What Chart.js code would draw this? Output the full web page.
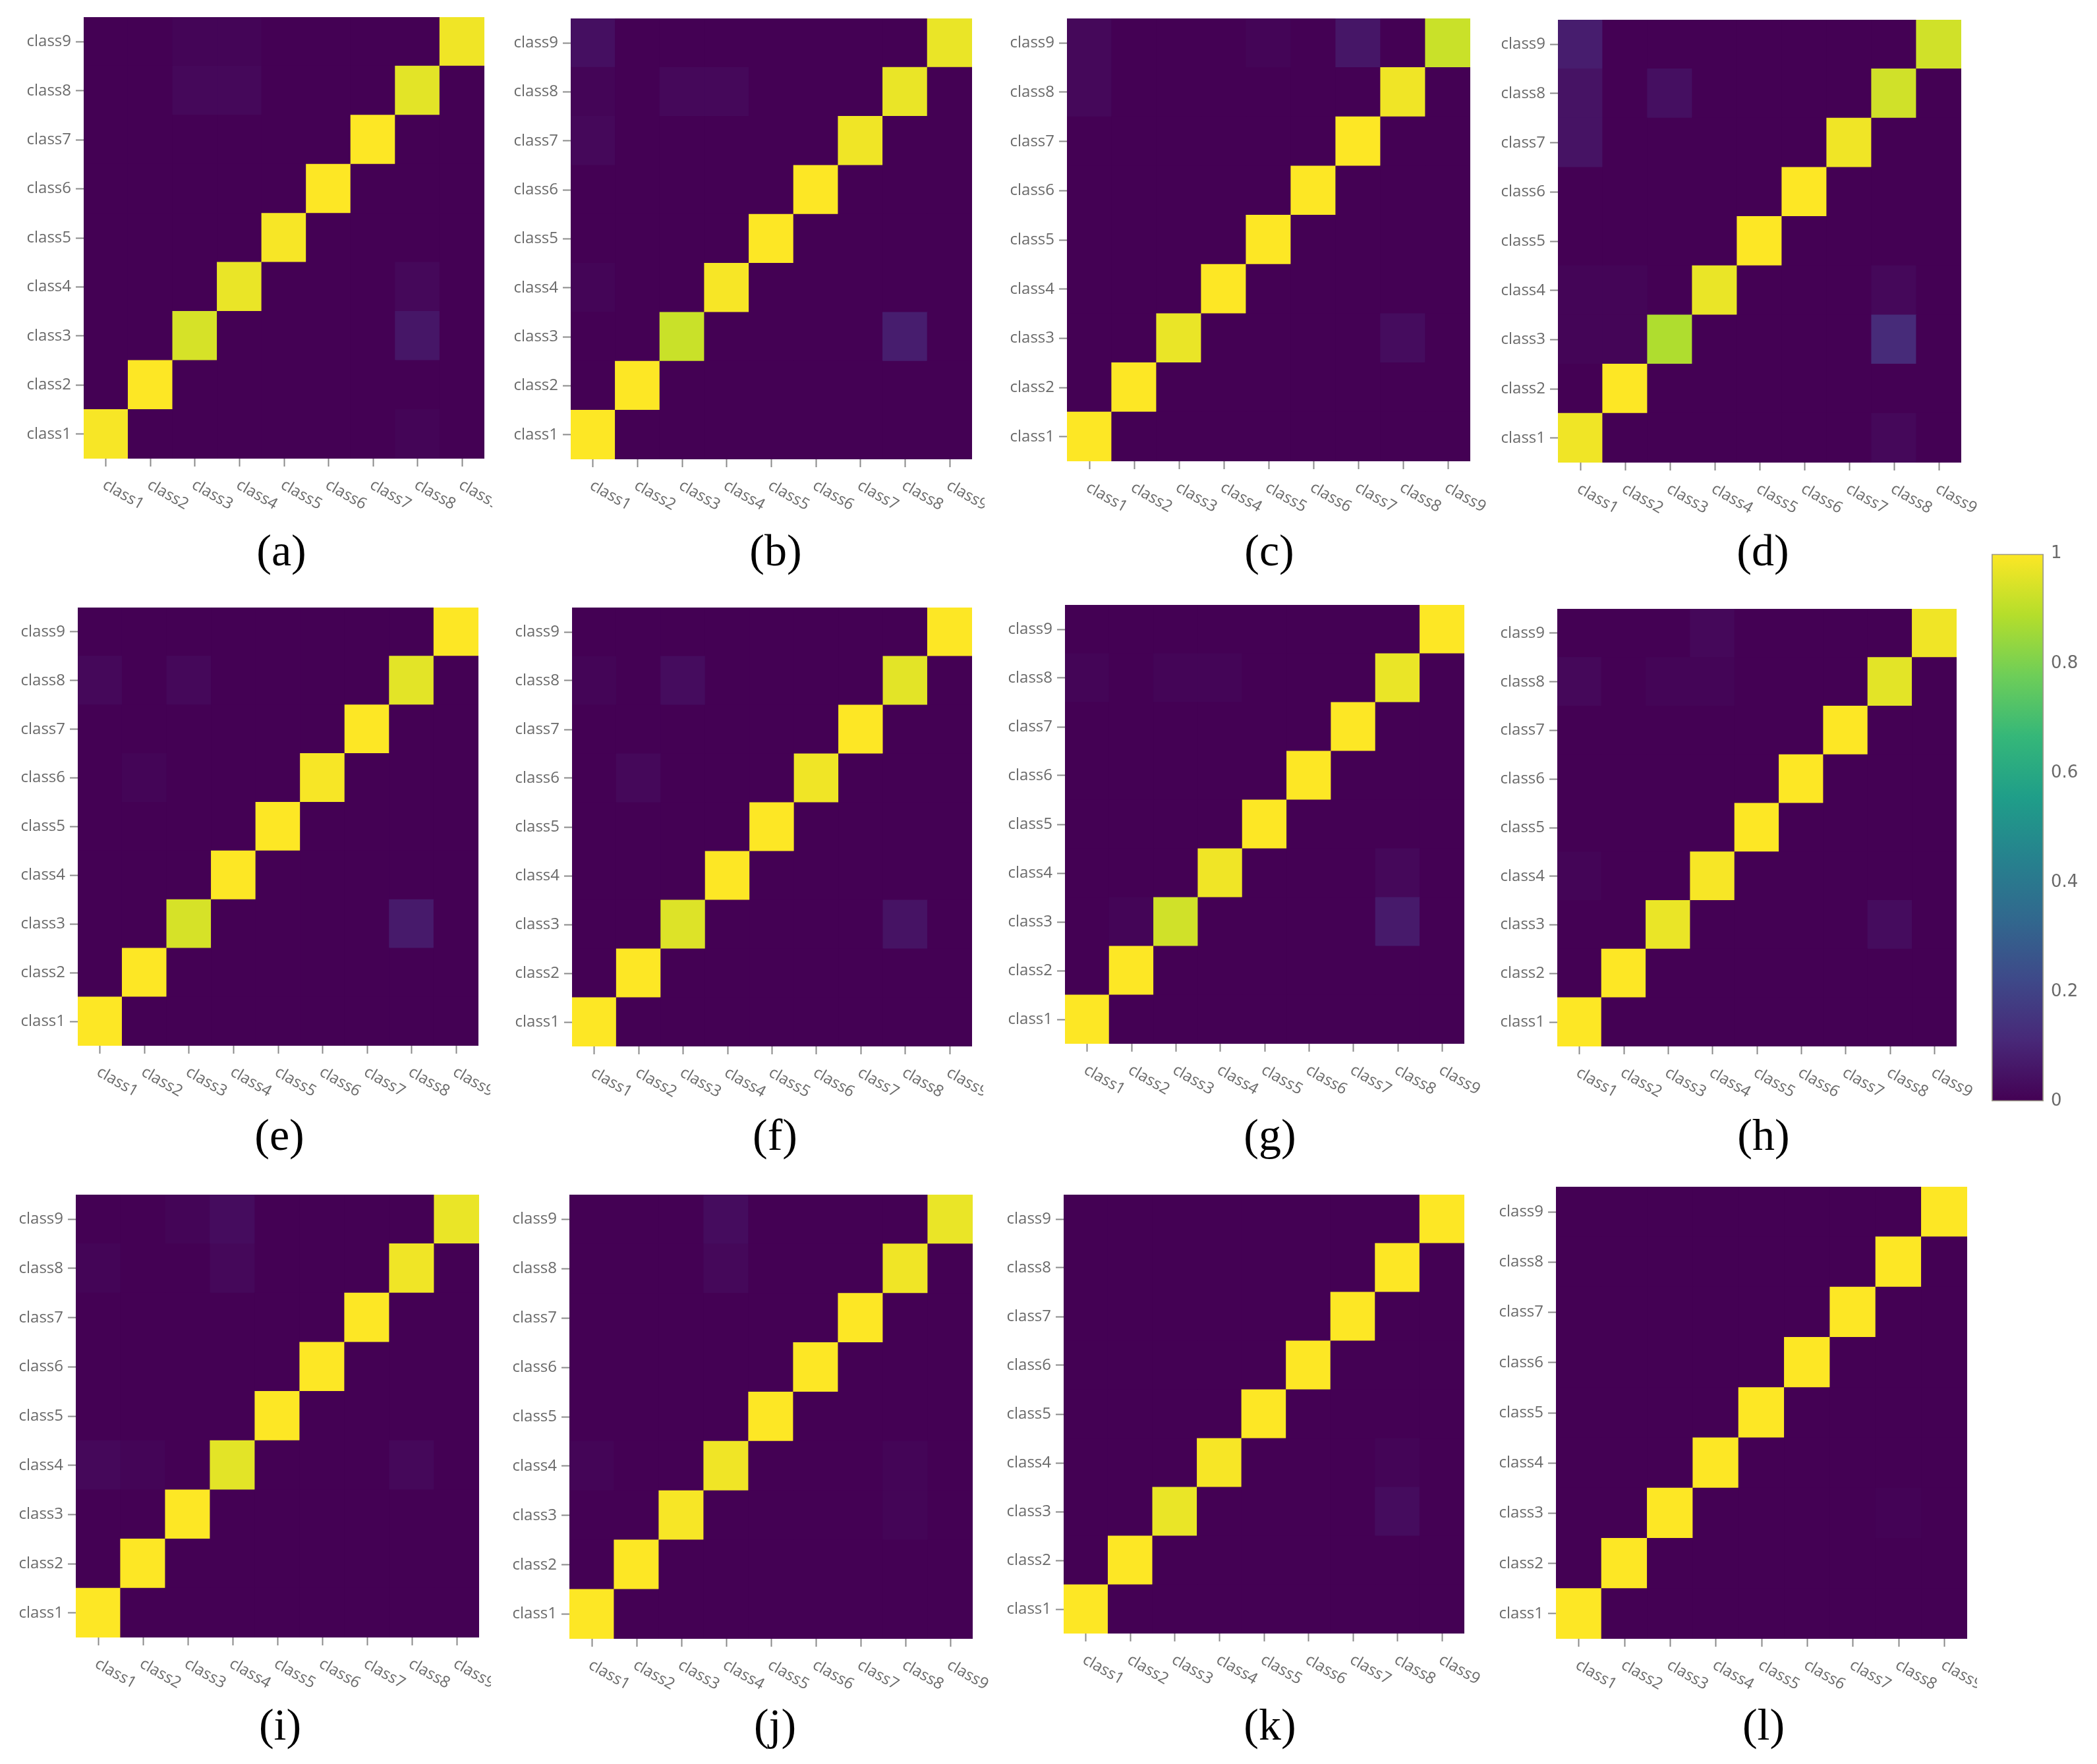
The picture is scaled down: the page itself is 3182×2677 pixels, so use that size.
<!DOCTYPE html>
<html>
<head>
<meta charset="utf-8">
<script src="https://cdn.jsdelivr.net/npm/chart.js@4.4.1/dist/chart.umd.min.js"></script>
<style>
  html, body { margin: 0; padding: 0; background: #fff; }
  body { position: relative; width: 3182px; height: 2677px; overflow: hidden; }
  canvas { position: absolute; }
  .caption {
    position: absolute;
    font-family: "Liberation Serif", "Times New Roman", serif;
    font-size: 68px;
    line-height: 1;
    color: #000;
    transform: translate(-50%, -50%);
    white-space: nowrap;
  }
</style>
</head>
<body>
<script>
const classes = ['class1', 'class2', 'class3', 'class4', 'class5', 'class6', 'class7', 'class8', 'class9'];
const captions = ['(a)', '(b)', '(c)', '(d)', '(e)', '(f)', '(g)', '(h)', '(i)', '(j)', '(k)', '(l)'];
const colorbarTicks = [0, 0.2, 0.4, 0.6, 0.8, 1];

// rows = true class1..class9, columns = predicted class1..class9
const cmA = [
  [0.99, 0, 0, 0, 0, 0, 0, 0.01, 0],
  [0, 1, 0, 0, 0, 0, 0, 0, 0],
  [0, 0, 0.94, 0, 0, 0, 0, 0.06, 0],
  [0, 0, 0, 0.97, 0, 0, 0, 0.02, 0],
  [0, 0, 0, 0, 0.99, 0, 0, 0, 0],
  [0, 0, 0, 0, 0, 1, 0, 0, 0],
  [0, 0, 0, 0, 0, 0, 1, 0, 0],
  [0, 0, 0.02, 0.02, 0, 0, 0, 0.96, 0],
  [0, 0, 0.01, 0.01, 0, 0, 0, 0, 0.98]
];
const cmB = [
  [1, 0, 0, 0, 0, 0, 0, 0, 0],
  [0, 1, 0, 0, 0, 0, 0, 0, 0],
  [0, 0, 0.92, 0, 0, 0, 0, 0.08, 0],
  [0.01, 0, 0, 0.99, 0, 0, 0, 0, 0],
  [0, 0, 0, 0, 1, 0, 0, 0, 0],
  [0, 0, 0, 0, 0, 1, 0, 0, 0],
  [0.02, 0, 0, 0, 0, 0, 0.98, 0, 0],
  [0.01, 0, 0.02, 0.02, 0, 0, 0, 0.97, 0],
  [0.04, 0, 0, 0, 0, 0, 0, 0, 0.97]
];
const cmC = [
  [1, 0, 0, 0, 0, 0, 0, 0, 0],
  [0, 1, 0, 0, 0, 0, 0, 0, 0],
  [0, 0, 0.97, 0, 0, 0, 0, 0.03, 0],
  [0, 0, 0, 1, 0, 0, 0, 0, 0],
  [0, 0, 0, 0, 1, 0, 0, 0, 0],
  [0, 0, 0, 0, 0, 1, 0, 0, 0],
  [0, 0, 0, 0, 0, 0, 1, 0, 0],
  [0.02, 0, 0, 0, 0, 0, 0, 0.98, 0],
  [0.02, 0, 0, 0, 0.01, 0, 0.06, 0, 0.92]
];
const cmD = [
  [0.98, 0, 0, 0, 0, 0, 0, 0.02, 0],
  [0, 1, 0, 0, 0, 0, 0, 0, 0],
  [0.01, 0.01, 0.88, 0, 0, 0, 0, 0.12, 0],
  [0.01, 0.01, 0, 0.97, 0, 0, 0, 0.02, 0],
  [0, 0, 0, 0, 1, 0, 0, 0, 0],
  [0, 0, 0, 0, 0, 1, 0, 0, 0],
  [0.05, 0, 0, 0, 0, 0, 0.98, 0, 0],
  [0.05, 0, 0.04, 0, 0, 0, 0, 0.93, 0],
  [0.08, 0, 0, 0, 0, 0, 0, 0, 0.93]
];
const cmE = [
  [1, 0, 0, 0, 0, 0, 0, 0, 0],
  [0, 1, 0, 0, 0, 0, 0, 0, 0],
  [0, 0, 0.94, 0, 0, 0, 0, 0.07, 0],
  [0, 0, 0, 1, 0, 0, 0, 0, 0],
  [0, 0, 0, 0, 1, 0, 0, 0, 0],
  [0, 0.01, 0, 0, 0, 0.99, 0, 0, 0],
  [0, 0, 0, 0, 0, 0, 1, 0, 0],
  [0.02, 0, 0.02, 0, 0, 0, 0, 0.96, 0],
  [0, 0, 0, 0, 0, 0, 0, 0, 1]
];
const cmF = [
  [1, 0, 0, 0, 0, 0, 0, 0, 0],
  [0, 1, 0, 0, 0, 0, 0, 0, 0],
  [0, 0, 0.95, 0, 0, 0, 0, 0.05, 0],
  [0, 0, 0, 1, 0, 0, 0, 0, 0],
  [0, 0, 0, 0, 1, 0, 0, 0, 0],
  [0, 0.02, 0, 0, 0, 0.98, 0, 0, 0],
  [0, 0, 0, 0, 0, 0, 1, 0, 0],
  [0.01, 0, 0.03, 0, 0, 0, 0, 0.96, 0],
  [0, 0, 0, 0, 0, 0, 0, 0, 1]
];
const cmG = [
  [1, 0, 0, 0, 0, 0, 0, 0, 0],
  [0, 1, 0, 0, 0, 0, 0, 0, 0],
  [0, 0.01, 0.93, 0, 0, 0, 0, 0.07, 0],
  [0, 0, 0, 0.98, 0, 0, 0, 0.02, 0],
  [0, 0, 0, 0, 1, 0, 0, 0, 0],
  [0, 0, 0, 0, 0, 1, 0, 0, 0],
  [0, 0, 0, 0, 0, 0, 1, 0, 0],
  [0.01, 0, 0.01, 0.01, 0, 0, 0, 0.97, 0],
  [0, 0, 0, 0, 0, 0, 0, 0, 1]
];
const cmH = [
  [1, 0, 0, 0, 0, 0, 0, 0, 0],
  [0, 1, 0, 0, 0, 0, 0, 0, 0],
  [0, 0, 0.97, 0, 0, 0, 0, 0.03, 0],
  [0.01, 0, 0, 0.99, 0, 0, 0, 0, 0],
  [0, 0, 0, 0, 1, 0, 0, 0, 0],
  [0, 0, 0, 0, 0, 1, 0, 0, 0],
  [0, 0, 0, 0, 0, 0, 1, 0, 0],
  [0.02, 0, 0.01, 0.01, 0, 0, 0, 0.96, 0],
  [0, 0, 0, 0.02, 0, 0, 0, 0, 0.98]
];
const cmI = [
  [1, 0, 0, 0, 0, 0, 0, 0, 0],
  [0, 1, 0, 0, 0, 0, 0, 0, 0],
  [0, 0, 1, 0, 0, 0, 0, 0, 0],
  [0.02, 0.01, 0, 0.96, 0, 0, 0, 0.02, 0],
  [0, 0, 0, 0, 1, 0, 0, 0, 0],
  [0, 0, 0, 0, 0, 1, 0, 0, 0],
  [0, 0, 0, 0, 0, 0, 1, 0, 0],
  [0.01, 0, 0, 0.02, 0, 0, 0, 0.98, 0],
  [0, 0, 0.01, 0.03, 0, 0, 0, 0, 0.97]
];
const cmJ = [
  [1, 0, 0, 0, 0, 0, 0, 0, 0],
  [0, 1, 0, 0, 0, 0, 0, 0, 0],
  [0, 0, 0.99, 0, 0, 0, 0, 0.01, 0],
  [0.01, 0, 0, 0.98, 0, 0, 0, 0.01, 0],
  [0, 0, 0, 0, 1, 0, 0, 0, 0],
  [0, 0, 0, 0, 0, 1, 0, 0, 0],
  [0, 0, 0, 0, 0, 0, 1, 0, 0],
  [0, 0, 0, 0.02, 0, 0, 0, 0.98, 0],
  [0, 0, 0, 0.03, 0, 0, 0, 0, 0.97]
];
const cmK = [
  [1, 0, 0, 0, 0, 0, 0, 0, 0],
  [0, 1, 0, 0, 0, 0, 0, 0, 0],
  [0, 0, 0.97, 0, 0, 0, 0, 0.03, 0],
  [0, 0, 0, 0.99, 0, 0, 0, 0.01, 0],
  [0, 0, 0, 0, 1, 0, 0, 0, 0],
  [0, 0, 0, 0, 0, 1, 0, 0, 0],
  [0, 0, 0, 0, 0, 0, 1, 0, 0],
  [0, 0, 0, 0, 0, 0, 0, 1, 0],
  [0, 0, 0, 0, 0, 0, 0, 0, 1]
];
const cmL = [
  [1, 0, 0, 0, 0, 0, 0, 0, 0],
  [0, 1, 0, 0, 0, 0, 0, 0, 0],
  [0, 0, 1, 0, 0, 0, 0, 0.005, 0],
  [0, 0, 0, 1, 0, 0, 0, 0, 0],
  [0, 0, 0, 0, 1, 0, 0, 0, 0],
  [0, 0, 0, 0, 0, 1, 0, 0, 0],
  [0, 0, 0, 0, 0, 0, 1, 0, 0],
  [0, 0, 0, 0, 0, 0, 0, 1, 0],
  [0, 0, 0, 0, 0, 0, 0, 0, 1]
];
const matrices = [cmA, cmB, cmC, cmD, cmE, cmF, cmG, cmH, cmI, cmJ, cmK, cmL];

// plotly Viridis
const viridis = ['#440154', '#482878', '#3e4989', '#31688e', '#26828e',
                 '#1f9e89', '#35b779', '#6ece58', '#b5de2b', '#fde725'];

function hexRgb(h) {
  return [parseInt(h.slice(1, 3), 16), parseInt(h.slice(3, 5), 16), parseInt(h.slice(5, 7), 16)];
}
function viridisColor(v) {
  const t = Math.max(0, Math.min(1, v)) * (viridis.length - 1);
  const i = Math.min(Math.floor(t), viridis.length - 2);
  const f = t - i;
  const a = hexRgb(viridis[i]), b = hexRgb(viridis[i + 1]);
  const c = a.map((x, k) => Math.round(x + (b[k] - x) * f));
  return 'rgb(' + c.join(',') + ')';
}

// plot rectangles in page pixels, where the labels get cut, caption centres
const boxes = [
  { l: 127, t: 26, r: 735, b: 696, clip: 747, cx: 427, cy: 840 },
  { l: 866, t: 28, r: 1475, b: 697, clip: 1494, cx: 1177, cy: 840 },
  { l: 1619, t: 28, r: 2231, b: 700, clip: null, cx: 1926, cy: 840 },
  { l: 2364, t: 30, r: 2976, b: 702, clip: null, cx: 2675, cy: 840 },
  { l: 118, t: 922, r: 726, b: 1587, clip: 744, cx: 424, cy: 1727 },
  { l: 868, t: 922, r: 1475, b: 1588, clip: 1492, cx: 1176, cy: 1727 },
  { l: 1616, t: 918, r: 2222, b: 1584, clip: null, cx: 1927, cy: 1727 },
  { l: 2363, t: 924, r: 2969, b: 1588, clip: null, cx: 2676, cy: 1727 },
  { l: 115, t: 1813, r: 727, b: 2485, clip: 745, cx: 425, cy: 2622 },
  { l: 864, t: 1813, r: 1476, b: 2487, clip: null, cx: 1176, cy: 2622 },
  { l: 1614, t: 1813, r: 2222, b: 2479, clip: null, cx: 1927, cy: 2622 },
  { l: 2361, t: 1801, r: 2985, b: 2487, clip: 3000, cx: 2676, cy: 2622 }
];

const Y_AXIS_W = 120;
const X_AXIS_H = 120;
const PAD_TOP = 24;
const labelFont = { family: 'Open Sans', size: 24 };
const labelColor = '#6a6a6a';
const tickColor = '#8a8a8a';

// x labels hang down to the right, which Chart.js can't rotate that way itself
const slantedLabels = {
  id: 'slantedLabels',
  afterDraw(chart) {
    const ctx = chart.ctx;
    const xs = chart.scales.x;
    const bottom = chart.chartArea.bottom;
    ctx.save();
    ctx.font = labelFont.size + 'px "' + labelFont.family + '"';
    ctx.fillStyle = labelColor;
    ctx.textAlign = 'left';
    ctx.textBaseline = 'middle';
    classes.forEach((name, i) => {
      ctx.save();
      ctx.translate(xs.getPixelForTick(i) - 3, bottom + 38);
      ctx.rotate(Math.PI / 6);
      ctx.fillText(name, 0, 0);
      ctx.restore();
    });
    ctx.restore();
  }
};

function addCanvas(left, top, w, h) {
  const c = document.createElement('canvas');
  c.width = w;
  c.height = h;
  c.style.left = left + 'px';
  c.style.top = top + 'px';
  c.style.width = w + 'px';
  c.style.height = h + 'px';
  document.body.appendChild(c);
  return c;
}

function makeHeatmap(box, matrix, idx) {
  const plotW = box.r - box.l;
  const plotH = box.b - box.t;
  const padRight = box.clip ? box.clip - box.r : 90;
  const canvas = addCanvas(box.l - Y_AXIS_W, box.t - PAD_TOP,
                           Y_AXIS_W + plotW + padRight, PAD_TOP + plotH + X_AXIS_H);

  // one stacked dataset per true class, each cell one unit tall
  const datasets = matrix.map((row, r) => ({
    label: classes[r],
    data: row.map(() => 1),
    backgroundColor: row.map(viridisColor),
    borderWidth: 0,
    inflateAmount: 0.6,
    barPercentage: 1,
    categoryPercentage: 1
  }));

  new Chart(canvas, {
    type: 'bar',
    data: { labels: classes, datasets: datasets },
    plugins: [slantedLabels],
    options: {
      responsive: false,
      animation: false,
      devicePixelRatio: 1,
      layout: { padding: { top: PAD_TOP, right: padRight, left: 0, bottom: 0 } },
      plugins: { legend: { display: false }, tooltip: { enabled: false } },
      scales: {
        x: {
          type: 'category',
          stacked: true,
          offset: true,
          grid: { offset: false, drawOnChartArea: false, tickLength: 12, tickWidth: 2, tickColor: tickColor },
          border: { display: false },
          ticks: { display: false },
          afterFit: (axis) => { axis.height = X_AXIS_H; }
        },
        y: {
          type: 'linear',
          stacked: true,
          min: 0,
          max: classes.length,
          afterBuildTicks: (axis) => {
            axis.ticks = classes.map((c, i) => ({ value: i + 0.5 }));
          },
          afterFit: (axis) => { axis.width = Y_AXIS_W; },
          ticks: {
            autoSkip: false,
            font: labelFont,
            color: labelColor,
            padding: 7,
            callback: (v) => classes[Math.floor(v)]
          },
          grid: { drawOnChartArea: false, tickLength: 12, tickWidth: 2, tickColor: tickColor },
          border: { display: false }
        }
      }
    }
  });

  const cap = document.createElement('div');
  cap.className = 'caption';
  cap.style.left = box.cx + 'px';
  cap.style.top = (box.cy - 5) + 'px';
  cap.textContent = captions[idx];
  document.body.appendChild(cap);
}

matrices.forEach((m, i) => makeHeatmap(boxes[i], m, i));

// colour bar
const cb = { l: 3022, t: 838, r: 3101, b: 1674 };
const cbCanvas = addCanvas(cb.l, cb.t - PAD_TOP, (cb.r - cb.l) + 80, (cb.b - cb.t) + 2 * PAD_TOP);
new Chart(cbCanvas, {
  type: 'bar',
  data: {
    labels: [''],
    datasets: [{
      data: [[colorbarTicks[0], colorbarTicks[colorbarTicks.length - 1]]],
      backgroundColor: (c) => {
        const area = c.chart.chartArea;
        if (!area) return viridis[0];
        const g = c.chart.ctx.createLinearGradient(0, area.bottom, 0, area.top);
        viridis.forEach((col, i) => g.addColorStop(i / (viridis.length - 1), col));
        return g;
      },
      borderColor: '#9c9a88',
      borderWidth: 2,
      borderSkipped: false,
      barPercentage: 1,
      categoryPercentage: 1
    }]
  },
  options: {
    responsive: false,
    animation: false,
    devicePixelRatio: 1,
    layout: { padding: { top: PAD_TOP, bottom: PAD_TOP, left: 0, right: 0 } },
    plugins: { legend: { display: false }, tooltip: { enabled: false } },
    scales: {
      x: { display: false },
      y: {
        position: 'right',
        min: 0,
        max: 1,
        afterBuildTicks: (axis) => {
          axis.ticks = colorbarTicks.map((v) => ({ value: v }));
        },
        afterFit: (axis) => { axis.width = 80; },
        ticks: {
          font: { family: 'DejaVu Sans', size: 26 },
          color: labelColor,
          padding: 11,
          callback: (v) => String(Math.round(v * 10) / 10)
        },
        grid: { display: false, drawTicks: false },
        border: { display: false }
      }
    }
  }
});
</script>
</body>
</html>
